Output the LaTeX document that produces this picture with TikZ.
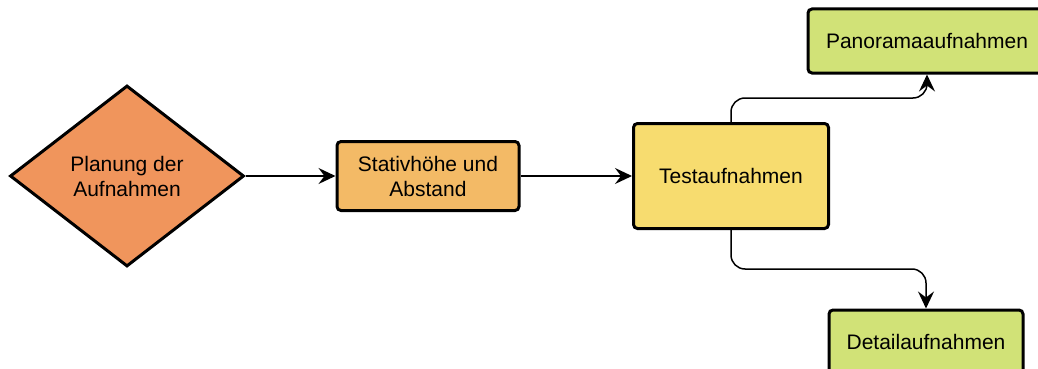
\documentclass[tikz,border=0pt]{standalone}
\usepackage{fontspec}
\setmainfont{Liberation Sans}
\usetikzlibrary{shapes.geometric,arrows.meta}
\definecolor{cPlan}{HTML}{F0955C}
\definecolor{cStativ}{HTML}{F3BA66}
\definecolor{cTest}{HTML}{F7DC6F}
\definecolor{cGreen}{HTML}{D1E277}
\begin{document}
\begin{tikzpicture}[x=1pt,y=-1pt,
  every node/.style={font=\fontsize{21}{25}\selectfont, align=center, text=black},
  box/.style={draw=black, line width=3pt, rounded corners=4pt, inner sep=0pt},
  decision/.style={diamond, draw=black, line width=3pt, inner sep=0pt, fill=cPlan},
  arr/.style={draw=black, line width=1.5pt,
    -{Stealth[length=17pt,width=16pt,inset=6pt,sharp]}},
  elbow/.style={rounded corners=14pt}]
  \useasboundingbox (0,0) rectangle (1038,369);
  % flow nodes
  \node[decision, minimum width=234pt, minimum height=181pt] (plan) at (127,176) {Planung der\\Aufnahmen};
  \node[box, fill=cStativ, minimum width=182pt, minimum height=69pt] (stativ) at (428,176) {Stativhöhe und\\Abstand};
  \node[box, fill=cTest, minimum width=195pt, minimum height=105pt] (test) at (731,176) {Testaufnahmen};
  \node[box, fill=cGreen, minimum width=238pt, minimum height=64pt] (pano) at (927,41) {Panoramaaufnahmen};
  \node[box, fill=cGreen, minimum width=194pt, minimum height=64pt] (detail) at (926,342) {Detailaufnahmen};
  % connectors
  \draw[arr] (plan.east) -- (stativ.west);
  \draw[arr] (stativ.east) -- (test.west);
  \draw[arr] (test.north) [elbow] -- (test.north |- 0,98) -- (pano.south |- 0,98) [sharp corners] -- (pano.south);
  \draw[arr] (test.south) [elbow] -- (test.south |- 0,269) -- (detail.north |- 0,269) [sharp corners] -- (detail.north);
\end{tikzpicture}
\end{document}
